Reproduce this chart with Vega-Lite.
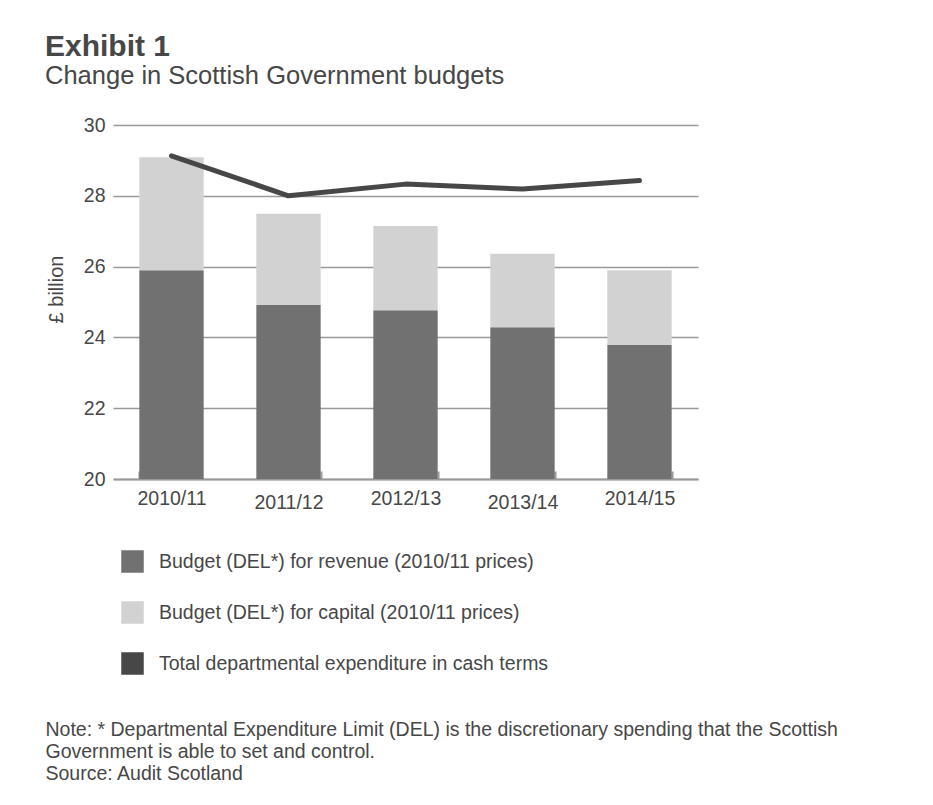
{
  "$schema": "https://vega.github.io/schema/vega-lite/v6.json",
  "width": 585,
  "height": 354,
  "autosize": {"type": "none"},
  "padding": {"left": 113, "top": 125, "right": 235, "bottom": 326},
  "background": "white",
  "title": {
    "text": "Exhibit 1",
    "subtitle": "Change in Scottish Government budgets",
    "anchor": "start",
    "frame": "group",
    "dx": -68,
    "offset": 26,
    "font": "Liberation Sans",
    "fontSize": 30,
    "fontWeight": "bold",
    "color": "#474747",
    "subtitleFont": "Liberation Sans",
    "subtitleFontSize": 25.5,
    "subtitleColor": "#474747",
    "subtitlePadding": 2
  },
  "data": {
    "values": [
      {"year": "2010/11", "revenue": 25.9, "total": 29.09, "cash": 29.13},
      {"year": "2011/12", "revenue": 24.92, "total": 27.49, "cash": 28.0},
      {"year": "2012/13", "revenue": 24.77, "total": 27.15, "cash": 28.33},
      {"year": "2013/14", "revenue": 24.29, "total": 26.36, "cash": 28.19},
      {"year": "2014/15", "revenue": 23.79, "total": 25.9, "cash": 28.43}
    ]
  },
  "encoding": {
    "x": {
      "field": "year",
      "type": "nominal",
      "sort": null,
      "scale": {"paddingInner": 0.45, "paddingOuter": 0.225, "align": 0.5},
      "axis": {
        "title": ["Note: * Departmental Expenditure Limit (DEL) is the discretionary spending that the Scottish", "Government is able to set and control.", "Source: Audit Scotland"],
        "titleX": -68,
        "titleY": 256,
        "titleAnchor": null,
        "titleAlign": "left",
        "titleBaseline": "alphabetic",
        "titleFont": "Liberation Sans",
        "titleFontSize": 19.5,
        "titleFontWeight": "normal",
        "titleColor": "#474747",
        "titleLineHeight": 22,
        "labelAngle": 0,
        "labelFont": "Liberation Sans",
        "labelFontSize": 19.5,
        "labelColor": "#474747",
        "labelPadding": {"condition": {"test": "datum.value === '2011/12' || datum.value === '2013/14'", "value": 22}, "value": 18},
        "domainColor": "#999999",
        "domainWidth": 2,
        "tickBand": "extent",
        "tickExtra": false,
        "tickColor": {"condition": {"test": "datum.value === '2010/11'", "value": "transparent"}, "value": "#999999"},
        "tickWidth": 2,
        "tickSize": -8,
        "grid": false
      }
    }
  },
  "layer": [
    {
      "mark": {"type": "bar"},
      "encoding": {
        "y": {
          "field": "revenue",
          "type": "quantitative",
          "scale": {"domain": [20, 30], "nice": false, "zero": false},
          "axis": {
            "title": "£ billion",
            "titleFont": "Liberation Sans",
            "titleFontSize": 20,
            "titleFontWeight": "normal",
            "titleColor": "#474747",
            "titleX": -51,
            "titleY": 164,
            "titleAngle": -90,
            "titleAlign": "center",
            "titleBaseline": "alphabetic",
            "values": [20, 22, 24, 26, 28, 30],
            "labelFont": "Liberation Sans",
            "labelFontSize": 19.5,
            "labelColor": "#474747",
            "labelPadding": 8,
            "ticks": false,
            "domain": false,
            "grid": true,
            "gridColor": "#999999",
            "gridWidth": 1.5
          }
        },
        "y2": {"datum": 20},
        "color": {
          "datum": "Budget (DEL*) for revenue (2010/11 prices)",
          "scale": {
            "domain": ["Budget (DEL*) for revenue (2010/11 prices)", "Budget (DEL*) for capital (2010/11 prices)", "Total departmental expenditure in cash terms"],
            "range": ["#717171", "#d2d2d2", "#474747"]
          },
          "legend": {
            "title": null,
            "orient": "none",
            "legendX": 8,
            "legendY": 425,
            "direction": "vertical",
            "symbolType": "square",
            "symbolSize": 506,
            "symbolStrokeWidth": 0,
            "symbolOpacity": 1,
            "rowPadding": 28,
            "labelFont": "Liberation Sans",
            "labelFontSize": 19.5,
            "labelColor": "#474747",
            "labelOffset": 15,
            "labelLimit": 0
          }
        }
      }
    },
    {
      "mark": {"type": "bar"},
      "encoding": {
        "y": {"field": "total", "type": "quantitative"},
        "y2": {"field": "revenue"},
        "color": {"datum": "Budget (DEL*) for capital (2010/11 prices)"}
      }
    },
    {
      "mark": {"type": "line", "color": "#474747", "strokeWidth": 5, "strokeCap": "round", "strokeJoin": "round"},
      "encoding": {
        "y": {"field": "cash", "type": "quantitative"}
      }
    }
  ],
  "config": {
    "view": {"stroke": null}
  }
}
